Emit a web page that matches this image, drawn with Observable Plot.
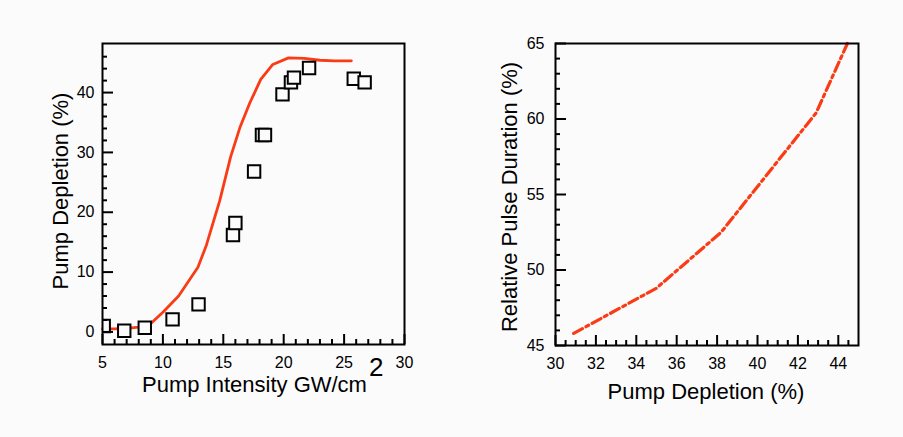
<!DOCTYPE html>
<html>
<head>
<meta charset="utf-8">
<script src="https://cdn.jsdelivr.net/npm/d3@7"></script>
<script src="https://cdn.jsdelivr.net/npm/@observablehq/plot@0.6"></script>
<style>
  html, body { margin: 0; padding: 0; background: #fbfbfb; }
  #wrap { position: relative; width: 903px; height: 437px; background: #fbfbfb; overflow: hidden; }
  #left, #right { position: absolute; top: 0; }
  #left { left: 0; }
  #right { left: 450px; }
  svg text { font-family: "Liberation Sans", Arial, Helvetica, sans-serif; }
</style>
</head>
<body>
<div id="wrap"><div id="left"></div><div id="right"></div></div>
<script>
// ---- Left panel data: measured pump depletion vs intensity (squares) ----
const measuredIntensity = [5.1, 6.8, 8.5, 10.8, 12.95, 15.8, 16.0, 17.55, 18.2, 18.45, 19.9, 20.6, 20.85, 22.1, 25.8, 26.7];
const measuredDepletion = [1.0, 0.2, 0.7, 2.1, 4.6, 16.2, 18.2, 26.8, 32.9, 32.9, 39.7, 41.7, 42.5, 44.1, 42.3, 41.7];

// ---- Left panel model curve (red) ----
const modelIntensity = [5.0, 6.0, 7.0, 8.0, 9.0, 10.0, 11.3, 12.9, 13.6, 14.7, 15.6, 16.4, 17.2, 18.1, 19.1, 20.4, 21.7, 23.0, 24.2, 25.6];
const modelDepletion = [0.5, 0.5, 0.6, 0.8, 1.4, 3.3, 6.0, 10.8, 14.5, 21.9, 29.2, 34.3, 38.3, 42.2, 44.7, 45.8, 45.7, 45.4, 45.3, 45.3];

// ---- Right panel data: relative pulse duration vs pump depletion ----
const simDepletion = [30.9, 35.0, 38.2, 42.9, 44.45];
const simDuration = [45.8, 48.8, 52.5, 60.4, 65.0];

// ---- Tick values ----
const leftXMajor = [5, 10, 15, 20, 25, 30];
const leftXMinor = d3.range(6, 30, 1).filter(v => v % 5 !== 0);
const leftYMajor = [0, 10, 20, 30, 40];
const leftYMinor = d3.range(2, 48, 2).filter(v => v % 10 !== 0);
const rightXMajor = [30, 32, 34, 36, 38, 40, 42, 44];
const rightXMinor = d3.range(30.5, 45, 0.5).filter(v => v % 2 !== 0);
const rightYMajor = [45, 50, 55, 60, 65];
const rightYMinor = d3.range(46, 65, 1).filter(v => v % 5 !== 0);

const RED = "#fa3c16";
const INK = "black";
const BG = "#fbfbfb";
const FONT = "Liberation Sans, Arial, Helvetica, sans-serif";

const measured = measuredIntensity.map((x, i) => ({x, y: measuredDepletion[i]}));
const model = modelIntensity.map((x, i) => ({x, y: modelDepletion[i]}));
const sim = simDepletion.map((x, i) => ({x, y: simDuration[i]}));

// inward ticks: rules spanning the frame, inset so only a short stub remains at the axis
function inwardAxes(xMajor, xMinor, yMajor, yMinor, yPad, frameW, frameH) {
  const tx = (ticks, len) => Plot.ruleX(ticks, {x: d => d, insetTop: frameH - len, stroke: "black", strokeWidth: 2});
  const ty = (ticks, len) => Plot.ruleY(ticks, {y: d => d, insetRight: frameW - len, stroke: "black", strokeWidth: 2});
  return [
    tx(xMajor, 10), tx(xMinor, 5),
    ty(yMajor, 11), ty(yMinor, 5),
    Plot.axisX({ticks: xMajor, tickSize: 0, tickPadding: 12, label: null, fontSize: 16, fill: INK}),
    Plot.axisY({ticks: yMajor, tickSize: 0, tickPadding: yPad, label: null, fontSize: 16, fill: INK})
  ];
}

const left = Plot.plot({
  width: 450, height: 437,
  marginLeft: 102, marginRight: 46, marginTop: 43, marginBottom: 93,
  x: {domain: [5, 30]},
  y: {domain: [-2.1, 48.2]},
  style: {background: "transparent", fontFamily: FONT, fontSize: "16px", color: INK},
  marks: [
    Plot.line(model, {x: "x", y: "y", stroke: RED, strokeWidth: 2.8, curve: "linear"}),
    Plot.dot(measured, {x: "x", y: "y", symbol: "square", r: 7, fill: BG, stroke: INK, strokeWidth: 2, clip: true}),
    ...inwardAxes(leftXMajor, leftXMinor, leftYMajor, leftYMinor, 8, 302, 301),
    Plot.frame({stroke: INK, strokeWidth: 2})
  ]
});

const right = Plot.plot({
  width: 453, height: 437,
  marginLeft: 105, marginRight: 45, marginTop: 43, marginBottom: 92,
  x: {domain: [30, 45]},
  y: {domain: [45, 65]},
  style: {background: "transparent", fontFamily: FONT, fontSize: "16px", color: INK},
  marks: [
    Plot.line(sim, {x: "x", y: "y", stroke: RED, strokeWidth: 3.2, strokeDasharray: "10,4,3,4"}),
    ...inwardAxes(rightXMajor, rightXMinor, rightYMajor, rightYMinor, 11, 303, 302),
    Plot.frame({stroke: INK, strokeWidth: 2})
  ]
});

document.getElementById("left").appendChild(left);
document.getElementById("right").appendChild(right);

// ---- Axis titles ----
function addText(svg, {x, y, rotate = 0, anchor = "middle", parts}) {
  const t = d3.select(svg).append("text")
    .attr("transform", `translate(${x},${y}) rotate(${rotate})`)
    .attr("text-anchor", anchor)
    .attr("fill", INK)
    .style("font-family", FONT)
    .style("font-size", "22px");
  for (const p of parts) {
    const s = t.append("tspan").text(p.text);
    if (p.dx) s.attr("dx", p.dx);
    if (p.dy) s.attr("dy", p.dy);
    if (p.size) s.style("font-size", p.size);
  }
}
addText(left, {x: 142, y: 392, anchor: "start", parts: [{text: "Pump Intensity GW/cm"}, {text: "2", dx: 2, dy: -16, size: "26px"}]});
addText(left, {x: 68, y: 191, rotate: -90, parts: [{text: "Pump Depletion (%)"}]});
addText(right, {x: 256, y: 399, parts: [{text: "Pump Depletion (%)"}]});
addText(right, {x: 67, y: 197, rotate: -90, parts: [{text: "Relative Pulse Duration (%)"}]});
</script>
</body>
</html>
